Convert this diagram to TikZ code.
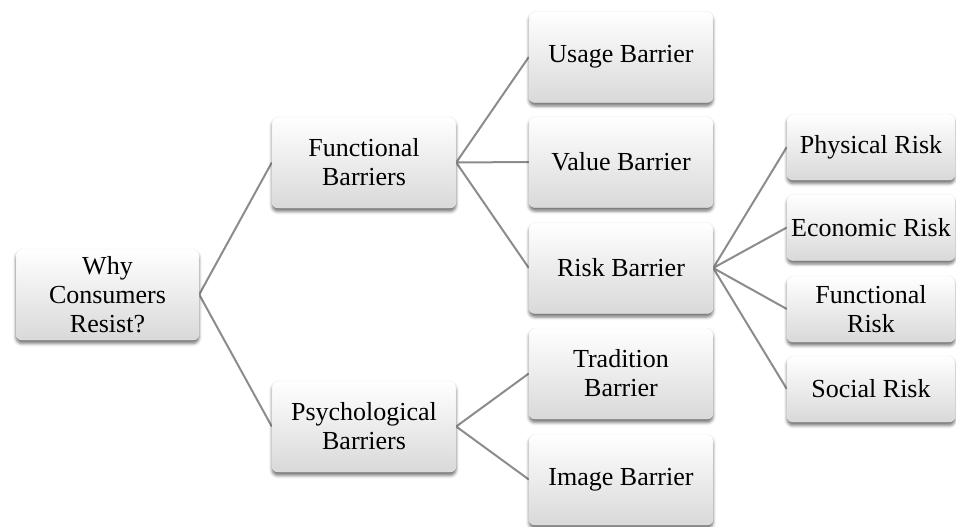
\documentclass[tikz,border=0pt]{standalone}
\usepackage{fontspec}
\setmainfont{Liberation Serif}
\usetikzlibrary{shadows.blur,backgrounds}
\tikzset{
  box/.style={rounded corners=6pt, draw=black!8, line width=0.4pt,
    top color=white, middle color=white, bottom color=black!15,
    align=center, inner sep=0pt,
    font=\fontsize{26}{29}\selectfont,
    blur shadow={shadow xshift=0pt, shadow yshift=-3.5pt,
      shadow blur radius=3pt, shadow opacity=55}},
  bigbox/.style={box, minimum width=184pt, minimum height=91pt},
  riskbox/.style={box, minimum width=168pt, minimum height=66pt},
  link/.style={draw=black!45, line width=2pt}
}
\begin{document}
\begin{tikzpicture}[x=1pt, y=-1pt]
  \useasboundingbox (0,0) rectangle (956,527);

  % root
  \node[bigbox, minimum width=183pt] (root) at (107.5,294.5) {Why\\Consumers\\Resist?};

  % second level
  \node[bigbox] (fb) at (364,162.5) {Functional\\Barriers};
  \node[bigbox] (pb) at (364,426.5) {Psychological\\Barriers};

  % third level
  \node[bigbox] (usage) at (621,57)    {Usage Barrier};
  \node[bigbox] (value) at (621,162)   {Value Barrier};
  \node[bigbox] (risk)  at (621,268)   {Risk Barrier};
  \node[bigbox] (trad)  at (621,373.5) {Tradition\\Barrier};
  \node[bigbox] (image) at (621,479.5) {Image Barrier};

  % kinds of risk
  \node[riskbox] (phys) at (871,147)   {Physical Risk};
  \node[riskbox] (econ) at (871,227.5) {Economic Risk};
  \node[riskbox] (func) at (871,309)   {Functional\\Risk};
  \node[riskbox] (soc)  at (871,389)   {Social Risk};

  % connectors behind the boxes
  \begin{pgfonlayer}{background}
    \draw[link] (root.east) -- (fb.west);
    \draw[link] (root.east) -- (pb.west);
    \draw[link] (fb.east) -- (usage.west);
    \draw[link] (fb.east) -- (value.west);
    \draw[link] (fb.east) -- (risk.west);
    \draw[link] (pb.east) -- (trad.west);
    \draw[link] (pb.east) -- (image.west);
    \draw[link] (risk.east) -- (phys.west);
    \draw[link] (risk.east) -- (econ.west);
    \draw[link] (risk.east) -- (func.west);
    \draw[link] (risk.east) -- (soc.west);
  \end{pgfonlayer}
\end{tikzpicture}
\end{document}
